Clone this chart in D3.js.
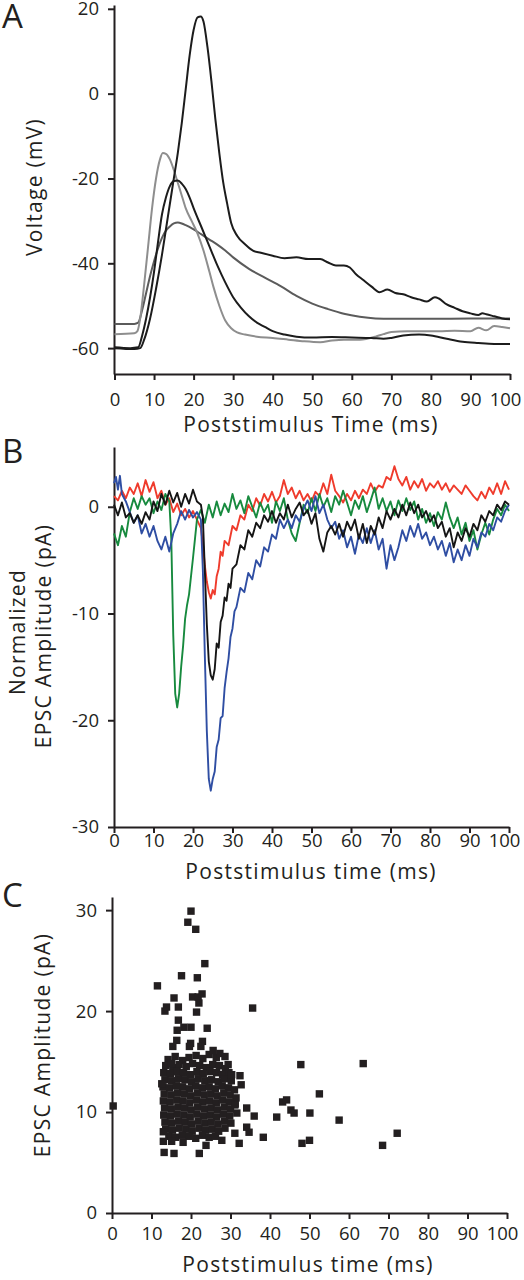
<!DOCTYPE html>
<html><head><meta charset="utf-8">
<script src="https://cdn.jsdelivr.net/npm/d3@7"></script>
<style>
body{margin:0;background:#fff}
svg{display:block}
text{font-family:'Open Sans',sans-serif;fill:#231f20}
</style>
</head><body>
<svg id="c" width="524" height="1280"></svg>
<script>
// ---------- Panel A: action potentials (t ms, V mV) ----------
const apTall = [[0,-60],[5,-60.2],[6.5,-60],[7.5,-58],[9,-53],[10.5,-46],[12,-38],[13.5,-29],[15,-20],[16,-14],[17,-7],[18,1],[19,9],[20,15],[21,18],[21.8,18.2],[22.5,17],[23.5,11],[24.5,3],[25.5,-6],[26.5,-14],[27.5,-21],[28.5,-26],[29.5,-30.5],[31,-33.5],[33,-35.5],[35,-37],[37,-37.5],[40,-38.2],[43,-38.8],[46,-38.6],[49,-39],[52,-39],[54,-39.8],[56,-40.5],[58,-40.5],[59.5,-41],[61,-42.5],[63,-44],[65,-45.5],[67,-46.8],[69,-46.2],[71,-47],[73,-47.3],[75,-48],[77,-48.5],[79,-49],[81,-48],[82,-48.3],[84,-49.7],[86,-50.5],[88,-51.3],[90,-51.8],[92,-52.2],[93,-51.8],[94,-52],[96,-52.5],[98,-53],[100,-53.2]];
const apMid = [[0,-59.8],[4,-60],[6,-59.8],[7,-57],[8,-53],[9,-48],[10,-42],[11,-35],[12,-28.5],[13,-24.5],[14,-21.8],[15,-20.6],[16,-20.5],[17,-21.2],[18,-22.5],[19,-24.5],[20,-27],[22,-31.5],[24,-36],[26,-40.5],[28,-44.5],[30,-48],[32,-50.5],[34,-52.5],[36,-54],[38,-55],[40,-56],[43,-56.8],[46,-57.3],[50,-57.5],[55,-57.4],[60,-57.5],[65,-57.6],[68,-57.8],[70,-57.6],[73,-57],[77,-56.8],[80,-57],[84,-57.8],[88,-58.5],[92,-58.8],[96,-59],[100,-59]];
const apLight = [[0,-56.7],[5,-56.5],[5.8,-56],[6.5,-53],[7.5,-45],[8.5,-36],[9.5,-27],[10.5,-20],[11.5,-15.5],[12.2,-14],[13,-14.2],[14,-15.5],[15,-18],[16,-21],[17,-24],[18,-27],[19.5,-30],[21,-33],[22.5,-37],[24,-42],[25,-45.5],[26.5,-50],[28,-53.5],[29.5,-55.3],[31,-56.3],[33,-56.8],[36,-57.3],[40,-57.6],[44,-58],[48,-58.4],[52,-58.6],[55,-58.2],[58,-58],[62,-58],[66,-57.3],[68,-56.7],[70,-56.2],[74,-56],[78,-56],[82,-56],[86,-55.9],[90,-56],[92,-55.2],[94,-55.8],[96,-54.8],[98,-55],[100,-55.3]];
const apDark = [[0,-54.3],[5,-54.3],[6,-54],[7,-51],[8,-47],[9,-43],[10,-39.5],[11,-36.5],[12,-34],[13,-32.3],[14,-31.3],[15,-30.6],[16,-30.4],[17,-30.6],[18,-31],[20,-32],[22,-33.2],[24,-34.4],[26,-35.6],[28,-37],[30,-38.6],[34,-41.3],[38,-43.4],[42,-45.4],[46,-47.7],[50,-49.5],[54,-50.8],[58,-51.9],[62,-52.6],[66,-53],[70,-53.1],[80,-53.1],[90,-53],[100,-53]];

// ---------- Panel B: normalized EPSC traces (t ms, pA) ----------
const epscRed = [[0,1.0],[1,0.6],[2,1.5],[3,0.8],[4,1.8],[5,1.2],[6,2.2],[7,1.0],[8,2.5],[9,1.4],[10,2.3],[11,0.8],[12,1.5],[13,0.2],[14,0.8],[15,-0.5],[16,0.3],[17,-0.8],[18,-0.2],[19,-1.0],[20,-0.4],[21,-1.2],[22,-2.0],[22.5,-3.5],[23,-5.5],[23.5,-7],[24,-8.0],[24.5,-8.6],[25,-7.8],[25.5,-8.2],[26,-6.5],[26.5,-5.8],[27,-4.2],[27.5,-4.6],[28,-3.2],[29,-3.6],[30,-1.8],[31,-2.2],[32,-0.8],[33,-1.2],[34,0.2],[35,-0.4],[36,0.8],[37,0.1],[38,1.2],[39,0.5],[40,1.4],[41,0.4],[42,1.0],[43,2.5],[44,1.2],[45,1.8],[46,0.8],[47,1.5],[48,0.6],[49,1.2],[50,0.5],[51,1.4],[52,1.0],[53,2.2],[54,1.2],[55,3.0],[56,1.5],[57,1.0],[58,0.4],[59,1.2],[60,0.6],[61,1.5],[62,0.8],[63,1.6],[64,1.2],[65,2.2],[66,1.4],[67,2.0],[68,1.8],[69,2.8],[70,2.5],[71,3.8],[72,2.6],[73,2.0],[74,2.8],[75,1.6],[76,2.4],[77,1.8],[78,2.6],[79,1.5],[80,2.2],[81,1.8],[82,2.4],[83,1.6],[84,2.2],[85,1.4],[86,2.0],[87,1.6],[88,1.2],[89,2.0],[90,1.5],[91,1.0],[92,0.6],[93,1.4],[94,0.8],[95,1.8],[96,1.2],[97,2.2],[98,1.2],[99,2.4],[100,1.6]];
const epscGreen = [[0,-2.5],[1,-3.6],[2,-1.8],[3,-2.8],[4,-0.5],[5,0.8],[6,-0.2],[7,1.0],[8,0.2],[9,0.8],[10,-0.6],[11,0.5],[12,-0.3],[13,1.2],[14,0.5],[14.5,-3],[15,-12],[15.5,-17.5],[16,-18.8],[16.5,-17.5],[17,-15],[17.5,-13],[18,-10.5],[18.5,-9.2],[19,-8.2],[19.5,-6.5],[20,-4.8],[20.5,-3],[21,-1.2],[22,-0.3],[23,-1.5],[24,0.2],[25,-1.0],[26,0.5],[27,-0.8],[28,0.3],[29,-0.5],[30,1.2],[31,-0.2],[32,0.6],[33,-0.6],[34,1.0],[35,0.0],[36,-1.0],[37,0.4],[38,-0.5],[39,0.2],[40,-1.5],[41,0.5],[42,-0.4],[43,0.8],[44,-1.2],[45,-2.5],[46,-3.2],[47,-1.5],[48,0.2],[49,-0.6],[50,0.8],[51,-0.4],[52,1.2],[53,0.0],[54,0.8],[55,-0.5],[56,1.0],[57,0.2],[58,1.5],[59,0.4],[60,-0.8],[61,0.6],[62,-0.2],[63,1.0],[64,-0.5],[65,0.6],[66,1.8],[67,-0.2],[68,0.8],[69,-0.4],[70,0.5],[71,-0.8],[72,0.6],[73,-0.4],[74,0.8],[75,-0.3],[76,0.5],[77,-1.2],[78,-0.2],[79,-1.5],[80,-0.6],[81,-1.8],[82,-0.5],[83,-1.2],[84,0.4],[85,-1.0],[86,-2.0],[87,-1.0],[88,-2.6],[89,-1.5],[90,-3.2],[91,-2.2],[92,-4.0],[93,-2.6],[94,-1.5],[95,-2.6],[96,-1.2],[97,-0.2],[98,-0.8],[99,0.2],[100,-0.4]];
const epscBlack = [[0,0.2],[1,-0.8],[2,0.4],[3,-1.0],[4,-0.6],[5,-1.5],[6,-0.8],[7,-1.6],[8,-0.5],[9,-1.2],[10,0.5],[11,-0.4],[12,1.2],[13,0.2],[14,1.5],[15,0.4],[16,1.3],[17,0.0],[18,1.2],[19,0.3],[20,1.6],[21,0.5],[22,0.2],[22.5,-1],[23,-6],[23.5,-11],[24,-14.5],[24.5,-15.8],[25,-16.2],[25.5,-15.2],[26,-12.8],[26.5,-13.2],[27,-10.8],[27.5,-10.2],[28,-8.5],[28.5,-8.8],[29,-7.2],[29.5,-7.6],[30,-5.8],[31,-5.4],[32,-3.6],[33,-4.0],[34,-2.2],[35,-2.8],[36,-1.5],[37,-2.0],[38,-0.8],[39,-1.4],[40,-0.4],[41,-1.5],[42,-0.6],[43,-1.2],[44,0.2],[45,-1.0],[46,-0.2],[47,0.4],[48,-0.8],[49,-0.3],[50,-1.6],[51,-0.6],[52,-3.0],[53,-4.2],[54,-2.4],[55,-1.8],[56,-2.6],[57,-1.6],[58,-2.8],[59,-1.4],[60,-2.2],[61,-1.2],[62,-3.0],[63,-1.6],[64,-3.4],[65,-1.8],[66,-2.6],[67,-1.0],[68,-2.0],[69,-0.4],[70,-1.2],[71,-0.2],[72,-1.0],[73,0.2],[74,-0.8],[75,0.4],[76,-0.6],[77,0.2],[78,-1.0],[79,-0.4],[80,-1.4],[81,-0.8],[82,-2.0],[83,-1.4],[84,-2.8],[85,-2.0],[86,-3.8],[87,-2.4],[88,-3.2],[89,-2.0],[90,-2.8],[91,-1.6],[92,-2.2],[93,-0.8],[94,-1.4],[95,-0.4],[96,-0.8],[97,0.2],[98,-0.3],[99,0.5],[100,0.2]];
const epscBlue = [[0,2.2],[0.5,2.8],[1,1.6],[1.5,2.9],[2,1.2],[3,0.5],[4,-0.5],[5,-1.5],[6,-0.8],[7,-2.5],[8,-1.6],[9,-2.8],[10,-1.8],[11,-3.2],[12,-4.0],[13,-2.8],[14,-4.2],[15,-2.5],[16,-1.6],[17,-0.4],[18,-1.2],[19,-0.3],[20,-1.0],[21,-0.5],[22,-1.2],[22.5,-6],[23,-14],[23.5,-21],[24,-25.5],[24.5,-26.6],[25,-25.5],[25.5,-24.8],[26,-22.5],[26.5,-21.8],[27,-19.8],[27.5,-19.6],[28,-17.0],[28.5,-15.5],[29,-14.2],[29.5,-12.2],[30,-11.4],[30.5,-9.8],[31,-9.4],[32,-7.6],[33,-8.0],[34,-6.2],[35,-6.8],[36,-5.0],[37,-5.6],[38,-3.8],[39,-4.2],[40,-2.6],[41,-3.0],[42,-1.2],[43,-2.0],[44,-1.2],[45,-2.0],[46,-0.8],[47,-1.4],[48,-0.2],[49,0.6],[50,-0.4],[51,1.0],[52,-0.6],[53,0.2],[54,-1.2],[55,-2.0],[56,-1.4],[57,-3.0],[58,-2.2],[59,-3.8],[60,-2.8],[61,-4.4],[62,-2.6],[63,-3.4],[64,-2.0],[65,-3.4],[66,-2.2],[67,-4.0],[68,-3.0],[69,-5.8],[70,-3.6],[71,-5.0],[72,-3.8],[73,-2.2],[74,-3.2],[75,-1.8],[76,-2.8],[77,-1.6],[78,-3.0],[79,-2.4],[80,-3.6],[81,-2.8],[82,-4.0],[83,-3.2],[84,-4.6],[85,-3.4],[86,-5.2],[87,-4.0],[88,-5.0],[89,-3.6],[90,-4.6],[91,-3.0],[92,-3.8],[93,-2.4],[94,-2.8],[95,-1.6],[96,-2.2],[97,-1.0],[98,-1.4],[99,-0.4],[100,0.2]];

// ---------- Panel C: EPSC amplitude vs latency (t ms, pA) ----------
const scatterOutliers = [[0.3,10.6],[11.5,22.5],[17.6,23.5],[21.6,23.3],[23.5,24.7],[20,29.9],[19.2,28.8],[21.2,28.1],[15.7,21.3],[20.4,21.4],[21.8,21.4],[22.8,21.7],[13.8,20.4],[13.4,20.0],[16.8,20.4],[22,20.8],[21.4,19.9],[35.6,20.3],[16.8,19.1],[16.5,18.1],[18.2,18.4],[20,18.4],[24.1,18.3],[16.4,17.1],[15.4,16.5],[19.9,16.8],[19.6,16.5],[22.9,17.0],[22.5,16.5],[25.6,16.1],[27.3,15.8],[28.6,15.5],[29.4,14.7],[30.3,13.7],[32.4,13.6],[32.7,12.7],[12.6,12.8],[15.1,14.8],[47.8,14.7],[63.6,14.8],[34.1,10.4],[36,9.6],[34.1,8.5],[34.7,8.0],[38.3,7.5],[31.1,7.9],[32.2,6.9],[27.8,7.2],[41.7,9.5],[43.2,11.0],[44.2,11.2],[45.3,10.2],[46.1,9.9],[50.1,9.9],[52.5,11.8],[48.1,6.9],[50,7.2],[57.5,9.2],[68.5,6.7],[72.2,7.9],[13.2,6.0],[15.7,5.9],[22.1,5.9],[23.8,6.7],[13.0,7.1],[15.1,7.1],[18.0,7.0],[13.0,8.05],[31.6,9.9],[31.1,10.7]];
const scatterCluster = [
 [14.2,15.2],[16.0,15.5],[17.9,15.1],[19.5,15.4],[21.3,15.6],[23.0,15.3],[24.6,15.7],[26.4,15.4],
 [13.6,14.6],[15.4,14.4],[17.0,14.7],[18.8,14.5],[20.4,14.8],[22.2,14.6],[23.9,14.4],[25.5,14.7],[27.2,14.6],[28.7,14.3],
 [13.1,13.9],[14.8,13.8],[16.5,14.0],[18.1,13.9],[19.9,13.7],[21.5,14.0],[23.1,13.8],[24.8,14.0],[26.5,13.9],[28.0,13.7],[29.6,13.9],
 [13.4,13.2],[15.1,13.1],[16.8,13.3],[18.5,13.2],[20.1,13.0],[21.8,13.3],[23.5,13.1],[25.2,13.2],[26.9,13.0],[28.5,13.3],[30.2,13.1],
 [12.9,12.5],[14.6,12.4],[16.3,12.6],[17.9,12.5],[19.6,12.3],[21.2,12.6],[22.9,12.4],[24.6,12.5],[26.2,12.3],[27.9,12.6],[29.5,12.4],[31.0,12.2],
 [13.2,11.8],[14.9,11.7],[16.6,11.9],[18.3,11.8],[19.9,11.6],[21.6,11.9],[23.3,11.7],[25.0,11.8],[26.6,11.6],[28.3,11.9],[29.9,11.7],[31.4,11.4],
 [13.0,11.1],[14.7,11.0],[16.4,11.2],[18.0,11.1],[19.7,10.9],[21.4,11.2],[23.0,11.0],[24.7,11.1],[26.4,10.9],[28.0,11.2],[29.7,11.0],[31.2,10.8],
 [13.3,10.4],[15.0,10.3],[16.7,10.5],[18.4,10.4],[20.0,10.2],[21.7,10.5],[23.4,10.3],[25.1,10.4],[26.7,10.2],[28.4,10.5],[30.0,10.3],
 [13.1,9.7],[14.8,9.6],[16.5,9.8],[18.2,9.7],[19.8,9.5],[21.5,9.8],[23.2,9.6],[24.9,9.7],[26.5,9.5],[28.2,9.8],[29.8,9.6],
 [13.4,9.0],[15.1,8.9],[16.8,9.1],[18.5,9.0],[20.1,8.8],[21.8,9.1],[23.5,8.9],[25.1,9.0],[26.8,8.8],[28.5,9.1],[30.1,8.9],
 [13.6,8.3],[15.3,8.2],[17.0,8.4],[18.7,8.3],[20.3,8.1],[22.0,8.4],[23.7,8.2],[25.3,8.3],[27.0,8.1],[28.6,8.4],
 [14.4,7.6],[16.1,7.5],[17.8,7.7],[19.5,7.6],[21.2,7.4],[22.9,7.7],[24.6,7.5],[26.2,7.6]
];

const xTicks = [0,10,20,30,40,50,60,70,80,90,100];
const yTicksA = [-60,-40,-20,0,20];
const yTicksB = [-30,-20,-10,0];
const yTicksC = [0,10,20,30];

const ink = '#231f20';
const svg = d3.select('#c');

function drawAxes(x, y, yTicks, xPad, yAxisX, xAxisY) {
  const gx = svg.append('g').attr('transform', `translate(0,${xAxisY})`)
    .call(d3.axisBottom(x).tickValues(xTicks).tickSize(6).tickSizeOuter(0).tickPadding(xPad).tickFormat(d => String(d)));
  const gy = svg.append('g').attr('transform', `translate(${yAxisX},0)`)
    .call(d3.axisLeft(y).tickValues(yTicks).tickSize(6).tickSizeOuter(0).tickPadding(9).tickFormat(d => String(d)));
  [gx, gy].forEach(g => {
    g.attr('font-family', "'Open Sans',sans-serif").attr('font-size', 18.5).style('color', ink);
    g.select('.domain').attr('stroke-width', 2);
    g.selectAll('.tick line').attr('stroke-width', 2);
  });
  // last label sits slightly left of its tick so it stays inside the figure
  gx.selectAll('.tick text').filter(d => d === 100).attr('dx', -5);
}
function label(txt, x, y, opts = {}) {
  const t = svg.append('text').text(txt)
    .attr('font-size', opts.size || 21)
    .attr('letter-spacing', opts.ls != null ? opts.ls : 1.3)
    .attr('text-anchor', opts.anchor || 'middle');
  if (opts.rot) t.attr('transform', `translate(${x},${y}) rotate(-90)`);
  else t.attr('x', x).attr('y', y);
  return t;
}

// ----- Panel A -----
{
  const x = d3.scaleLinear().domain([0, 100]).range([114.5, 510]);
  const y = d3.scaleLinear().domain([-66.1, 20.9]).range([374, 5]);
  drawAxes(x, y, yTicksA, 13, 114, 374);
  const line = d3.line().x(d => x(d[0])).y(d => y(d[1])).curve(d3.curveMonotoneX);
  const series = [[apDark, '#5b5b5b'], [apLight, '#8e8e8e'], [apMid, '#1c1c1c'], [apTall, '#1c1c1c']];
  svg.append('g').selectAll('path').data(series).join('path')
    .attr('d', d => line(d[0])).attr('fill', 'none').attr('stroke', d => d[1])
    .attr('stroke-width', 2).attr('stroke-linejoin', 'round');
  label('A', 2, 28, {size: 33, anchor: 'start', ls: 0});
  label('Voltage (mV)', 42, 187, {rot: true});
  label('Poststimulus Time (ms)', 311, 432);
}

// ----- Panel B -----
{
  const x = d3.scaleLinear().domain([0, 100]).range([114, 509]);
  const y = d3.scaleLinear().domain([-30, 5.6]).range([827, 447]);
  drawAxes(x, y, yTicksB, 1, 114, 827);
  const line = d3.line().x(d => x(d[0])).y(d => y(d[1]));
  const series = [[epscRed, '#ef3b2c'], [epscGreen, '#178a3e'], [epscBlue, '#2f4ea3'], [epscBlack, '#151515']];
  svg.append('g').selectAll('path').data(series).join('path')
    .attr('d', d => line(d[0])).attr('fill', 'none').attr('stroke', d => d[1])
    .attr('stroke-width', 1.9).attr('stroke-linejoin', 'round');
  label('B', 2, 463, {size: 33, anchor: 'start', ls: 0});
  label('Normalized', 25, 632, {rot: true});
  label('EPSC Amplitude (pA)', 51, 636, {rot: true});
  label('Poststimulus time (ms)', 311, 879);
}

// ----- Panel C -----
{
  const x = d3.scaleLinear().domain([0, 100]).range([112, 507]);
  const y = d3.scaleLinear().domain([0, 31.3]).range([1213, 897]);
  drawAxes(x, y, yTicksC, 8, 112, 1213);
  const pts = scatterCluster.concat(scatterOutliers);
  const s = 7.4;
  svg.append('g').selectAll('rect').data(pts).join('rect')
    .attr('x', d => x(d[0]) - s / 2).attr('y', d => y(d[1]) - s / 2)
    .attr('width', s).attr('height', s).attr('fill', ink);
  label('C', 2, 907, {size: 33, anchor: 'start', ls: 0});
  label('EPSC Amplitude (pA)', 50, 1045, {rot: true});
  label('Poststimulus time (ms)', 308, 1272);
}
</script>
</body></html>
